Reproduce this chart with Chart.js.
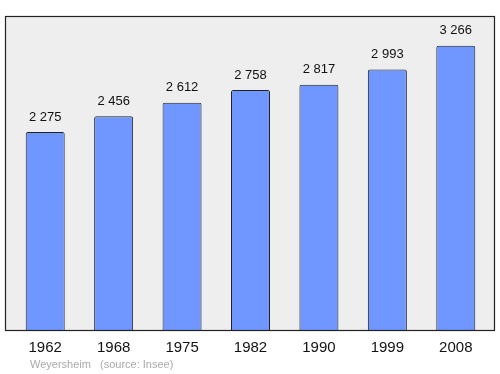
<!DOCTYPE html>
<html>
<head>
<meta charset="utf-8">
<script src="https://cdn.jsdelivr.net/npm/chart.js@4"></script>
<style>
  html, body { margin: 0; padding: 0; background: #fff; }
  #grafica { display: block; }
</style>
</head>
<body>
<canvas id="grafica" width="500" height="374"></canvas>
<script>
const annees = ["1962", "1968", "1975", "1982", "1990", "1999", "2008"];
const population = [2275, 2456, 2612, 2758, 2817, 2993, 3266];
const etiquettes = ["2 275", "2 456", "2 612", "2 758", "2 817", "2 993", "3 266"];
const commune = "Weyersheim";
const source = "(source: Insee)";

// fond gris + cadre, textes
const decor = {
  id: "decor",
  beforeDatasetsDraw(chart) {
    const c = chart.ctx;
    const a = chart.chartArea;
    c.save();
    c.fillStyle = "#eeeeee";
    c.fillRect(a.left - 5, a.top, a.right - a.left + 10, a.bottom - a.top);
    c.restore();
  },
  afterDatasetsDraw(chart) {
    const c = chart.ctx;
    const a = chart.chartArea;
    const x = chart.scales.x;
    const meta = chart.getDatasetMeta(0);
    c.save();
    c.strokeStyle = "#222";
    c.lineWidth = 1.2;
    c.strokeRect(a.left - 5.5, a.top + 0.5, a.right - a.left + 10, a.bottom - a.top);

    c.fillStyle = "#111";
    c.textAlign = "center";
    c.textBaseline = "middle";
    c.font = "13px 'Liberation Sans', Arial, sans-serif";
    meta.data.forEach((bar, i) => {
      c.fillText(etiquettes[i], bar.x, bar.y - 15);
    });

    c.font = "15px 'Liberation Sans', Arial, sans-serif";
    annees.forEach((an, i) => {
      c.fillText(an, x.getPixelForValue(i), a.bottom + 18);
    });

    c.fillStyle = "#aaa";
    c.textAlign = "left";
    c.font = "11px 'Liberation Sans', Arial, sans-serif";
    c.fillText(commune, 30, 365);
    c.fillText(source, 100, 365);
    c.restore();
  }
};

new Chart(document.getElementById("grafica").getContext("2d"), {
  type: "bar",
  data: {
    labels: annees,
    datasets: [{
      data: population,
      backgroundColor: "#7097ff",
      borderColor: "#222",
      borderWidth: 1,
      borderRadius: 2,
      borderSkipped: "bottom",
      barPercentage: 0.57,
      categoryPercentage: 1
    }]
  },
  options: {
    responsive: false,
    animation: false,
    layout: { padding: { left: 11, right: 10, top: 16, bottom: 44 } },
    plugins: { legend: { display: false }, tooltip: { enabled: false } },
    scales: {
      x: { display: false },
      y: { display: false, min: 0, max: 3608 }
    }
  },
  plugins: [decor]
});
</script>
</body>
</html>
